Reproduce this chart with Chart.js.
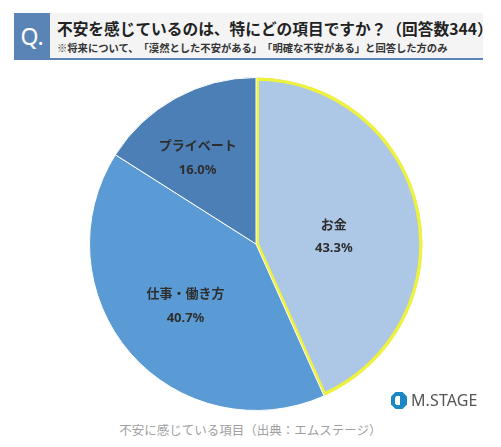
<!DOCTYPE html>
<html>
<head>
<meta charset="utf-8">
<script src="https://cdn.jsdelivr.net/npm/chart.js@4.4.1/dist/chart.umd.min.js"></script>
<style>
  body { margin: 0; background: #fff; width: 501px; height: 447px; position: relative; overflow: hidden;
         font-family: "Noto Sans CJK JP", "Noto Sans", sans-serif; text-spacing-trim: space-all; }
  #head { position: absolute; left: 14px; top: 13px; width: 469px; height: 45px; background: #f4f4f4;
          border-bottom: 2px solid #5b84b6; }
  #qbox { position: absolute; left: 0; top: 0; width: 36px; height: 47px; background: #5b84b6; color: #fff;
          font-family: "Noto Sans", sans-serif; font-size: 23px; line-height: 47px; text-align: center; }
  #title { position: absolute; left: 43px; top: 4px; font-size: 15.7px; font-weight: bold; color: #222; white-space: nowrap; }
  #sub { position: absolute; left: 43px; top: 27px; font-size: 10.3px; font-weight: bold; color: #333; white-space: nowrap; }
  #wrap { position: absolute; left: 89px; top: 77px; width: 334px; height: 334px; }
  #logo { position: absolute; left: 391px; top: 391px; height: 18px; display: flex; align-items: center; }
  #logo span { font-family: "Noto Sans", sans-serif; font-size: 16px; color: #555; margin-left: 4px; letter-spacing: 0.1px; }
  #cap { position: absolute; left: 0; width: 501px; top: 420px; text-align: center; font-size: 12.5px; color: #a0a0a0; }
</style>
</head>
<body>
<div id="head">
  <div id="qbox">Q.</div>
  <div id="title">不安を感じているのは、特にどの項目ですか？（回答数344）</div>
  <div id="sub">※将来について、「漠然とした不安がある」「明確な不安がある」と回答した方のみ</div>
</div>
<div id="wrap"><canvas id="pie"></canvas></div>
<div id="logo">
  <svg width="16" height="17" viewBox="0 0 16 17">
    <polygon points="4.5,0 11.5,0 16,4.5 16,12.5 11.5,17 4.5,17 0,12.5 0,4.5" fill="#1b87c4"/>
    <polygon points="5.5,4 9,4 9,13 5.5,13 4,11.5 4,5.5" fill="#ffffff"/>
  </svg>
  <span>M.STAGE</span>
</div>
<div id="cap">不安に感じている項目（出典：エムステージ）</div>
<script>
const categories = ['お金', '仕事・働き方', 'プライベート'];
const shares = [43.3, 40.7, 16.0];
const shareLabels = ['43.3%', '40.7%', '16.0%'];

const sliceLabels = {
  id: 'sliceLabels',
  afterDatasetsDraw(chart) {
    const ctx = chart.ctx;
    const meta = chart.getDatasetMeta(0);
    const factors = [0.47, 0.56, 0.63];
    const shift = [6, 0, -5];
    ctx.save();
    ctx.fillStyle = '#2e2e2e';
    ctx.textAlign = 'center';
    ctx.textBaseline = 'middle';
    meta.data.forEach((arc, i) => {
      const p = arc.getProps(['x', 'y', 'startAngle', 'endAngle', 'outerRadius']);
      const a = (p.startAngle + p.endAngle) / 2 + shift[i] * Math.PI / 180;
      const r = p.outerRadius * factors[i];
      const x = p.x + Math.cos(a) * r;
      const y = p.y + Math.sin(a) * r;
      ctx.font = 'bold 13px "Noto Sans CJK JP"';
      ctx.fillText(categories[i], x, y - 12);
      ctx.font = 'bold 13px "Noto Sans", "Noto Sans CJK JP"';
      ctx.fillText(shareLabels[i], x, y + 13);
    });
    ctx.restore();
  }
};

new Chart(document.getElementById('pie'), {
  type: 'pie',
  data: {
    labels: categories,
    datasets: [{
      data: shares,
      backgroundColor: ['#adc7e6', '#5b9bd5', '#4b7fb6'],
      borderColor: ['#eef23c', '#ffffff', '#ffffff'],
      borderWidth: [3, 1, 1],
      borderAlign: ['inner', 'center', 'center']
    }]
  },
  options: {
    responsive: true,
    maintainAspectRatio: false,
    animation: false,
    layout: { padding: 0 },
    plugins: { legend: { display: false }, tooltip: { enabled: false } }
  },
  plugins: [sliceLabels]
});
</script>
</body>
</html>
